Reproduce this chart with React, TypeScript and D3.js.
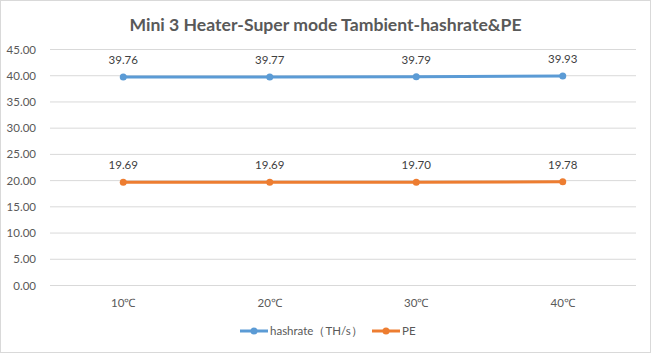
import React from "react";
import * as d3 from "d3";

const categories = ["10℃", "20℃", "30℃", "40℃"];
const hashrate = [39.76, 39.77, 39.79, 39.93];
const pe = [19.69, 19.69, 19.7, 19.78];
const yTicks = [0, 5, 10, 15, 20, 25, 30, 35, 40, 45];

const W = 651;
const H = 353;
const font = "Lato, 'Open Sans', sans-serif";

const App = () => {
  const x = d3.scaleBand().domain(categories).range([50, 636]);
  const y = d3.scaleLinear().domain([0, 45]).range([285.5, 49.5]);
  const cx = (c: string) => (x(c) as number) + x.bandwidth() / 2;

  const line = d3.line<[string, number]>().x(d => cx(d[0])).y(d => y(d[1]));

  const series = [
    { name: "hashrate（TH/s）", values: hashrate, color: "#5b9bd5" },
    { name: "PE", values: pe, color: "#ed7d31" },
  ];

  return (
    <svg width={W} height={H} style={{ position: "absolute", left: 0, top: 0, background: "#fff" }}>
      <rect x={0.5} y={0.5} width={W - 1} height={H - 1} fill="#fff" stroke="#d9d9d9" />
      <text x={W / 2} y={31} textAnchor="middle" fontFamily={font} fontWeight="bold" fontSize={17.6} fill="#595959">
        Mini 3 Heater-Super mode Tambient-hashrate&amp;PE
      </text>
      {yTicks.map(t => (
        <g key={t}>
          <line x1={50} x2={636} y1={y(t)} y2={y(t)} stroke="#d9d9d9" strokeWidth={1} />
          <text x={36} y={y(t) + 4} textAnchor="end" fontFamily={font} fontSize={11.5} fill="#595959">
            {t.toFixed(2)}
          </text>
        </g>
      ))}
      {categories.map(c => (
        <text key={c} x={cx(c)} y={307} textAnchor="middle" fontFamily={font} fontSize={11.5} fill="#595959">
          {c}
        </text>
      ))}
      {series.map(s => {
        const pts = categories.map((c, i) => [c, s.values[i]] as [string, number]);
        return (
          <g key={s.name}>
            <path d={line(pts) || ""} fill="none" stroke={s.color} strokeWidth={3} strokeLinecap="round" />
            {pts.map(p => (
              <g key={p[0]}>
                <circle cx={cx(p[0])} cy={y(p[1])} r={3.5} fill={s.color} />
                <text x={cx(p[0])} y={y(p[1]) - 13} textAnchor="middle" fontFamily={font} fontSize={11.5} fill="#404040">
                  {p[1].toFixed(2)}
                </text>
              </g>
            ))}
          </g>
        );
      })}
      <g fontFamily={font} fontSize={11.5} fill="#595959">
        <line x1={240} x2={268} y1={331} y2={331} stroke="#5b9bd5" strokeWidth={3} />
        <circle cx={254} cy={331} r={3.5} fill="#5b9bd5" />
        <text x={270} y={335}>hashrate（TH/s）</text>
        <line x1={372} x2={400} y1={331} y2={331} stroke="#ed7d31" strokeWidth={3} />
        <circle cx={386} cy={331} r={3.5} fill="#ed7d31" />
        <text x={402} y={335}>PE</text>
      </g>
    </svg>
  );
};

export default App;
